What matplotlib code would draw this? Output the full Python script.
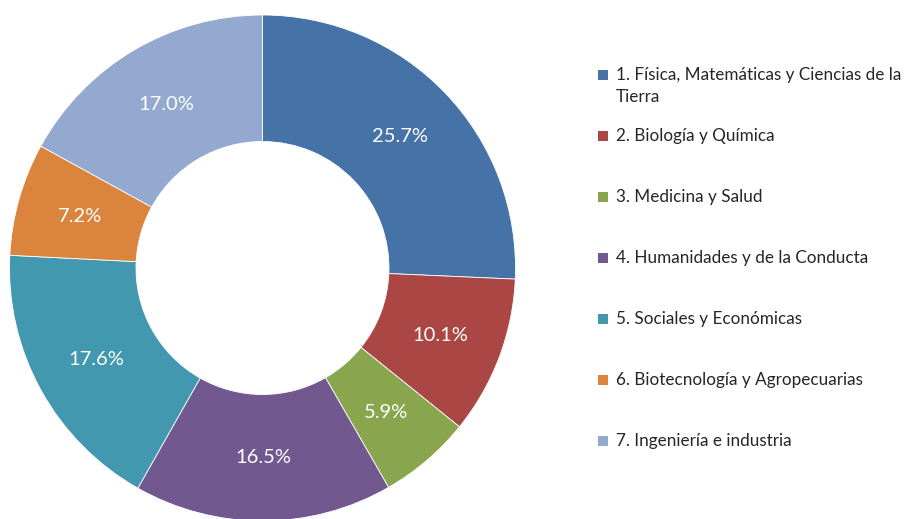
import matplotlib
matplotlib.use("Agg")
import matplotlib.pyplot as plt
from matplotlib.patches import Rectangle

plt.rcParams['font.family'] = ['Lato', 'DejaVu Sans']

categories = [
    "1. Física, Matemáticas y Ciencias de la\nTierra",
    "2. Biología y Química",
    "3. Medicina y Salud",
    "4. Humanidades y de la Conducta",
    "5. Sociales y Económicas",
    "6. Biotecnología y Agropecuarias",
    "7. Ingeniería e industria",
]
values = [25.7, 10.1, 5.9, 16.5, 17.6, 7.2, 17.0]
colors = ["#4572A7", "#AA4643", "#89A54E", "#71588F", "#4198AF", "#DB843D", "#93A9CF"]

W, H = 907, 519
fig = plt.figure(figsize=(W / 100, H / 100), dpi=100)
fig.patch.set_facecolor("white")

cx, cy, R = 262.5, 268, 253
ax = fig.add_axes([(cx - R) / W, (H - cy - R) / H, 2 * R / W, 2 * R / H])

wedges, texts, autotexts = ax.pie(
    values, colors=colors, startangle=90, counterclock=False, radius=1,
    autopct="%1.1f%%", pctdistance=0.75,
    wedgeprops=dict(width=0.5, edgecolor="white", linewidth=0.6),
    textprops=dict(color="white", fontsize=14.5),
)
ax.set_xlim(-1, 1)
ax.set_ylim(-1, 1)
ax.set_aspect("equal")
ax.axis("off")
for w in wedges:
    w.set_clip_on(False)

# legend
lx_box, lx_text = 598, 616
y0, step, line_h = 75, 61.0, 22
for i, (lab, col) in enumerate(zip(categories, colors)):
    yc = y0 + i * step
    fig.patches.append(Rectangle(((lx_box) / W, 1 - (yc + 5) / H), 10 / W, 10 / H,
                                 transform=fig.transFigure, facecolor=col,
                                 edgecolor="none"))
    for j, line in enumerate(lab.split("\n")):
        fig.text(lx_text / W, 1 - (yc + j * line_h) / H, line, fontsize=12.3,
                 color="#262626", va="center", ha="left")

fig.savefig("out.png", dpi=100, facecolor="white")
